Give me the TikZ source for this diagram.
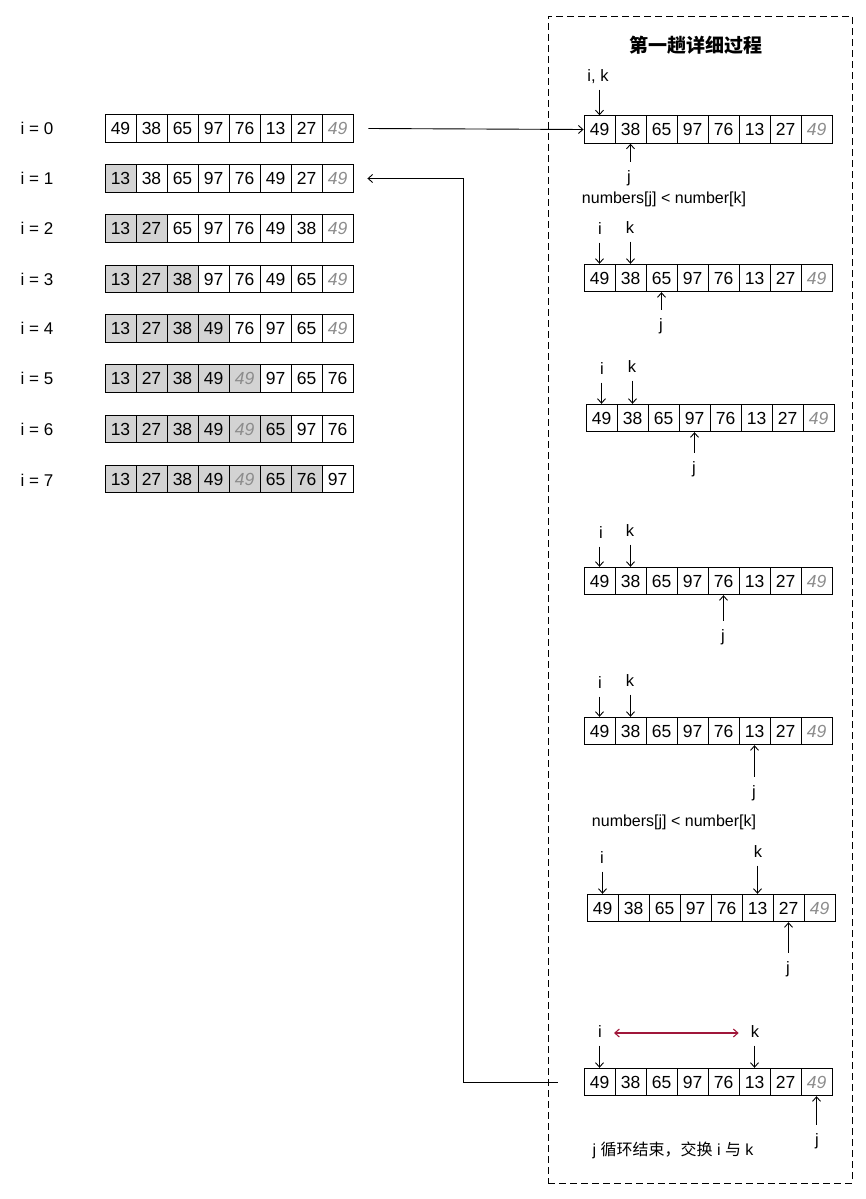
\documentclass[tikz,border=0pt]{standalone}
\usepackage{fontspec}
\setmainfont{Liberation Sans}
\newfontfamily\cjk{Noto Sans CJK SC}
\usetikzlibrary{arrows.meta}
\definecolor{shade}{HTML}{D3D3D3}
\definecolor{ghost}{HTML}{8C8C8C}
\definecolor{swapred}{HTML}{A0173A}
\newcommand\cellrow[4]{\foreach \v/\s [count=\n] in {#4}{\node[cell,\s] (#1-\n) at ({#2+31*(\n-0.5)},#3) {\v};}}
\begin{document}
\begin{tikzpicture}[x=1pt,y=-1pt,
  cell/.style={draw, line width=0.9pt, minimum width=31pt, minimum height=27.5pt, inner sep=0pt, font=\fontsize{17.5}{20}\selectfont},
  w/.style={},
  g/.style={fill=shade},
  it/.style={font=\fontsize{17.5}{20}\selectfont\itshape, text=ghost},
  gi/.style={g,it},
  rowlbl/.style={font=\fontsize{17}{20}\selectfont, inner sep=0pt},
  lbl/.style={font=\fontsize{16.5}{19}\selectfont, text height=12pt, text depth=3pt, inner xsep=1pt, inner ysep=5pt},
  jlbl/.style={font=\fontsize{16.5}{19}\selectfont, text height=12pt, text depth=3pt, inner xsep=1pt, inner ysep=8.5pt},
  note/.style={font=\fontsize{16}{19}\selectfont, inner sep=0pt},
  ptr/.style={line width=0.9pt, -{Straight Barb[length=4.5pt,width=8pt]}},
]
\useasboundingbox (0,0) rectangle (866,1199);

% dashed container
\node[draw, line width=0.9pt, dash pattern=on 7pt off 4pt, minimum width=304pt, minimum height=1167pt, inner sep=0pt] (frame) at (700,599.5) {};
\node[font=\cjk\bfseries\fontsize{19}{22}\selectfont] (title) at (696,45) {第一趟详细过程};

% left column
\cellrow{L0}{105}{128.5}{49/w,38/w,65/w,97/w,76/w,13/w,27/w,49/it}
\cellrow{L1}{105}{178.5}{13/g,38/w,65/w,97/w,76/w,49/w,27/w,49/it}
\cellrow{L2}{105}{228.5}{13/g,27/g,65/w,97/w,76/w,49/w,38/w,49/it}
\cellrow{L3}{105}{279}{13/g,27/g,38/g,97/w,76/w,49/w,65/w,49/it}
\cellrow{L4}{105}{328.5}{13/g,27/g,38/g,49/g,76/w,97/w,65/w,49/it}
\cellrow{L5}{105}{378.5}{13/g,27/g,38/g,49/g,49/gi,97/w,65/w,76/w}
\cellrow{L6}{105}{429}{13/g,27/g,38/g,49/g,49/gi,65/g,97/w,76/w}
\cellrow{L7}{105}{479}{13/g,27/g,38/g,49/g,49/gi,65/g,76/g,97/w}
\foreach \r/\yy in {0/128.5,1/178.5,2/228.5,3/279,4/328.5,5/378.5,6/429,7/480.5}{
  \node[rowlbl] (n\r) at (37,\yy) {i = \r};
}

% right column arrays
\cellrow{R1}{584}{129.5}{49/w,38/w,65/w,97/w,76/w,13/w,27/w,49/it}
\cellrow{R2}{584}{278}{49/w,38/w,65/w,97/w,76/w,13/w,27/w,49/it}
\cellrow{R3}{586}{418}{49/w,38/w,65/w,97/w,76/w,13/w,27/w,49/it}
\cellrow{R4}{584}{581}{49/w,38/w,65/w,97/w,76/w,13/w,27/w,49/it}
\cellrow{R5}{584}{731}{49/w,38/w,65/w,97/w,76/w,13/w,27/w,49/it}
\cellrow{R6}{587}{908}{49/w,38/w,65/w,97/w,76/w,13/w,27/w,49/it}
\cellrow{R7}{584}{1082}{49/w,38/w,65/w,97/w,76/w,13/w,27/w,49/it}

% step 1
\node[lbl] (a1ik) at (598,77) {i, k};
\draw[ptr] (a1ik.south -| R1-1.north) -- (R1-1.north);
\node[jlbl] (a1j) at (629,178) {j};
\draw[ptr] (a1j.north -| R1-2.south) -- (R1-2.south);
\node[note] (c1) at (664,199) {numbers[j] < number[k]};

% step 2
\node[lbl] (a2i) at (600,230) {i};
\node[lbl] (a2k) at (630,229) {k};
\draw[ptr] (a2i.south -| R2-1.north) -- (R2-1.north);
\draw[ptr] (a2k.south -| R2-2.north) -- (R2-2.north);
\node[jlbl] (a2j) at (661,326) {j};
\draw[ptr] (a2j.north -| R2-3.south) -- (R2-3.south);

% step 3
\node[lbl] (a3i) at (602,370) {i};
\node[lbl] (a3k) at (632,368) {k};
\draw[ptr] (a3i.south -| R3-1.north) -- (R3-1.north);
\draw[ptr] (a3k.south -| R3-2.north) -- (R3-2.north);
\node[jlbl] (a3j) at (694,469) {j};
\draw[ptr] (a3j.north -| R3-4.south) -- (R3-4.south);

% step 4
\node[lbl] (a4i) at (601,534) {i};
\node[lbl] (a4k) at (630,532) {k};
\draw[ptr] (a4i.south -| R4-1.north) -- (R4-1.north);
\draw[ptr] (a4k.south -| R4-2.north) -- (R4-2.north);
\node[jlbl] (a4j) at (723,637) {j};
\draw[ptr] (a4j.north -| R4-5.south) -- (R4-5.south);

% step 5
\node[lbl] (a5i) at (600,684) {i};
\node[lbl] (a5k) at (630,682) {k};
\draw[ptr] (a5i.south -| R5-1.north) -- (R5-1.north);
\draw[ptr] (a5k.south -| R5-2.north) -- (R5-2.north);
\node[jlbl] (a5j) at (754,793) {j};
\draw[ptr] (a5j.north -| R5-6.south) -- (R5-6.south);
\node[note] (c2) at (674,822) {numbers[j] < number[k]};

% step 6
\node[lbl] (a6i) at (602,859) {i};
\node[lbl] (a6k) at (758,853) {k};
\draw[ptr] (a6i.south -| R6-1.north) -- (R6-1.north);
\draw[ptr] (a6k.south -| R6-6.north) -- (R6-6.north);
\node[jlbl] (a6j) at (788,969) {j};
\draw[ptr] (a6j.north -| R6-7.south) -- (R6-7.south);

% step 7
\node[lbl] (a7i) at (600,1033) {i};
\node[lbl] (a7k) at (755,1033) {k};
\draw[ptr] (a7i.south -| R7-1.north) -- (R7-1.north);
\draw[ptr] (a7k.south -| R7-6.north) -- (R7-6.north);
\node[jlbl] (a7j) at (817,1141) {j};
\draw[ptr] (a7j.north -| R7-8.south) -- (R7-8.south);
\draw[swapred, line width=1.1pt, {Straight Barb[length=4.5pt,width=8pt]}-{Straight Barb[length=4.5pt,width=8pt]}] ([xshift=11pt]a7i.east) -- ([xshift=-11pt]a7k.west);
\node[note] (c3) at (673,1150) {j {\cjk 循环结束，交换} i {\cjk 与} k};

% connectors between columns
\draw[ptr] ([xshift=15pt]L0-8.east) -- (R1-1.west);
\draw[ptr] ([xshift=-26pt]R7-1.west) -- ++(-94,0) |- ([xshift=14pt]L1-8.east);
\end{tikzpicture}
\end{document}
